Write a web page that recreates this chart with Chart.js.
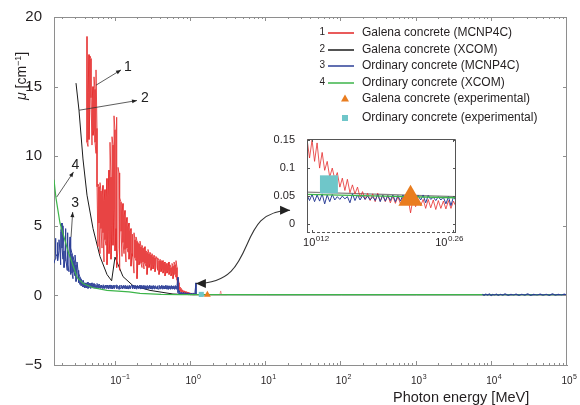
<!DOCTYPE html>
<html>
<head>
<meta charset="utf-8">
<script src="https://cdn.jsdelivr.net/npm/chart.js@4.4.1/dist/chart.umd.min.js"></script>
<style>
  html, body { margin: 0; padding: 0; background: #fff; }
  #wrap { position: relative; width: 580px; height: 405px; }
  #mainChart { position: absolute; left: 0; top: 0; }
  #insetChart { position: absolute; left: 265px; top: 125px; }
</style>
</head>
<body>
<div id="wrap">
  <canvas id="mainChart" width="580" height="405"></canvas>
  <canvas id="insetChart" width="205" height="130"></canvas>
</div>
<script>
// photon energy grid (MeV) for the MCNP4C curves, low energy part
const energyGrid = [
  0.01507, 0.01554, 0.01602, 0.01652, 0.01703, 0.01756, 0.01811, 0.01867, 0.01925, 0.01985,
  0.02047, 0.02111, 0.02176, 0.02244, 0.02313, 0.02385, 0.02460, 0.02536, 0.02615, 0.02696,
  0.02780, 0.02867, 0.02956, 0.03048, 0.03143, 0.03240, 0.03341, 0.03445, 0.03552, 0.03663,
  0.03777, 0.03894, 0.04015, 0.04140, 0.04269, 0.04401, 0.04538, 0.04679, 0.04825, 0.04975,
  0.05130, 0.05289, 0.05454, 0.05623, 0.05798, 0.05978, 0.06164, 0.06356, 0.06553, 0.06757,
  0.06967, 0.07184, 0.07407, 0.07637, 0.07875, 0.08120, 0.08372, 0.08632, 0.08901, 0.09177,
  0.09463, 0.09757, 0.1006, 0.1037, 0.1070, 0.1103, 0.1137, 0.1173, 0.1209, 0.1247,
  0.1286, 0.1326, 0.1367, 0.1409, 0.1453, 0.1498, 0.1545, 0.1593, 0.1642, 0.1693,
  0.1746, 0.1800, 0.1856, 0.1914, 0.1974, 0.2035, 0.2098, 0.2163, 0.2231, 0.2300,
  0.2372, 0.2445, 0.2521, 0.2600, 0.2681, 0.2764, 0.2850, 0.2938, 0.3030, 0.3124,
  0.3221, 0.3321, 0.3424, 0.3531, 0.3640, 0.3754, 0.3870, 0.3991, 0.4115, 0.4243,
  0.4375, 0.4511, 0.4651, 0.4796, 0.4945, 0.5099, 0.5257, 0.5421, 0.5589, 0.5763,
  0.5942, 0.6127, 0.6317, 0.6514, 0.6716, 0.6925, 0.7140, 0.7362, 0.7591, 0.7827,
  0.8070, 0.8321, 0.8580, 0.8847, 0.9122, 0.9406, 0.9698, 1.000, 1.031, 1.063,
  1.096, 1.130, 1.165
];

// Galena concrete (MCNP4C): upper / lower envelope of the noisy trace, starts at grid index 33
const galenaMcnpStart = 33;
const galenaMcnpHi = [
  18.6, 14.6, 17.3, 17.2, 17.0, 14.0, 15.0, 15.7, 14.8, 16.2,
  12.0, 8.0, 7.8, 8.1, 7.5, 7.2, 7.9, 6.8, 7.6, 7.0,
  8.4, 7.2, 9.0, 11.0, 8.5, 11.4, 10.8, 12.9, 11.9, 12.8,
  10.2, 9.2, 8.8, 7.0, 6.7, 6.0, 6.6, 5.7, 6.1, 5.2,
  5.6, 4.9, 5.2, 4.6, 4.8, 4.4, 4.3, 4.5, 4.0, 4.2,
  3.9, 3.8, 3.7, 3.9, 3.5, 3.6, 3.4, 3.3, 3.5, 3.2,
  3.1, 3.3, 3.0, 3.1, 2.9, 3.0, 2.8, 2.9, 2.7, 2.8,
  2.6, 2.7, 2.5, 2.6, 2.5, 2.4, 2.5, 2.3, 2.4, 2.2,
  2.3, 2.1, 2.4, 2.2, 2.0, 2.3, 2.1, 2.4, 2.2, 2.5,
  2.0, 1.2, 0.9, 0.6, 0.5, 0.4, 0.35, 0.3, 0.3, 0.25,
  0.25, 0.2, 0.2, 0.15, 0.15, 0.12, 0.14, 0.1, 0.12, 0.1
];
const galenaMcnpLo = [
  11.0, 10.7, 11.2, 13.8, 14.2, 10.8, 11.5, 11.9, 11.0, 10.2,
  7.8, 3.5, 5.2, 3.0, 4.8, 3.4, 4.5, 2.4, 4.0, 3.6,
  2.2, 4.6, 3.0, 4.0, 2.6, 5.0, 3.6, 6.2, 3.2, 4.8,
  2.0, 3.4, 1.8, 3.2, 4.6, 2.8, 3.8, 3.0, 3.3, 2.4,
  3.4, 3.1, 2.6, 3.2, 2.1, 3.0, 2.8, 1.6, 2.7, 2.5,
  1.2, 2.6, 2.2, 2.5, 2.3, 2.0, 2.4, 1.9, 2.3, 2.1,
  1.5, 2.2, 2.0, 2.3, 1.8, 2.1, 1.9, 2.2, 1.7, 2.0,
  1.8, 2.0, 1.5, 1.9, 1.7, 1.9, 1.6, 1.8, 1.4, 1.7,
  1.6, 1.8, 1.5, 1.7, 1.4, 1.6, 1.2, 1.7, 1.5, 1.3,
  1.1, 0.6, 0.4, 0.3, 0.25, 0.2, 0.2, 0.15, 0.15, 0.1,
  0.1, 0.1, 0.08, 0.08, 0.06, 0.06, 0.05, 0.05, 0.06, 0.05
];
const galenaTailE = [1.17, 2.0, 2.42, 2.48, 2.54, 3.0];
const galenaTailMu = [0.05, 0.05, 0.05, 0.32, 0.05, 0.05];

// Ordinary concrete (MCNP4C)
const ordMcnpHi = [
  2.3, 3.9, 4.1, 3.4, 3.8, 4.0, 3.2, 4.6, 5.2, 5.0,
  3.2, 4.4, 4.8, 3.6, 4.5, 3.0, 4.2, 3.4, 3.0, 2.8,
  2.5, 2.9, 2.2, 2.4, 1.8, 1.6, 1.3, 1.2, 1.0, 1.1,
  0.9, 0.8, 0.9, 0.85, 0.95, 0.8, 0.88, 0.78, 0.9, 0.75,
  0.85, 0.8, 0.72, 0.86, 0.76, 0.82, 0.7, 0.74, 0.68, 0.76,
  0.7, 0.66, 0.74, 0.69, 0.72, 0.65, 0.75, 0.68, 0.71, 0.64,
  0.73, 0.67, 0.7, 0.75, 0.66, 0.72, 0.69, 0.74, 0.65, 0.71,
  0.68, 0.73, 0.66, 0.7, 0.64, 0.72, 0.67, 0.7, 0.74, 0.65,
  0.69, 0.72, 0.66, 0.71, 0.68, 0.65, 0.73, 0.67, 0.7, 0.64,
  0.71, 0.68, 0.66, 0.72, 0.65, 0.69, 0.7, 0.64, 0.68, 0.71,
  0.66, 0.7, 0.63, 0.69, 0.67, 0.72, 0.65, 0.68, 0.7, 0.64,
  0.68, 0.66, 0.71, 0.63, 0.69, 0.67, 0.65, 0.7, 0.66, 0.68,
  0.64, 0.7, 0.66, 0.72, 1.3, 0.35, 0.22, 0.2, 0.18, 0.22,
  0.16, 0.2, 0.15, 0.18, 0.14, 0.17, 0.13, 0.16, 0.12, 0.15,
  0.14, 0.25, 0.9
];
const ordMcnpLo = [
  2.3, 2.6, 3.0, 2.8, 2.5, 3.2, 2.2, 2.6, 3.4, 2.6,
  2.0, 2.5, 2.9, 1.8, 2.2, 1.7, 2.0, 1.5, 1.6, 1.2,
  1.7, 1.4, 1.0, 1.2, 0.9, 1.0, 0.8, 0.7, 0.7, 0.6,
  0.6, 0.55, 0.55, 0.6, 0.5, 0.62, 0.55, 0.5, 0.6, 0.52,
  0.58, 0.5, 0.55, 0.48, 0.56, 0.5, 0.54, 0.5, 0.55, 0.47,
  0.53, 0.5, 0.56, 0.49, 0.52, 0.46, 0.54, 0.5, 0.47, 0.53,
  0.5, 0.55, 0.48, 0.52, 0.5, 0.45, 0.53, 0.49, 0.52, 0.47,
  0.54, 0.5, 0.48, 0.53, 0.46, 0.51, 0.49, 0.54, 0.47, 0.5,
  0.52, 0.47, 0.5, 0.45, 0.53, 0.49, 0.51, 0.46, 0.5, 0.52,
  0.48, 0.5, 0.44, 0.52, 0.49, 0.47, 0.51, 0.48, 0.45, 0.5,
  0.49, 0.46, 0.51, 0.47, 0.5, 0.44, 0.49, 0.47, 0.5, 0.45,
  0.48, 0.5, 0.46, 0.49, 0.44, 0.48, 0.47, 0.45, 0.49, 0.46,
  0.47, 0.44, 0.48, 0.45, 0.2, 0.12, 0.1, 0.08, 0.1, 0.07,
  0.08, 0.06, 0.08, 0.05, 0.07, 0.05, 0.06, 0.05, 0.06, 0.05,
  0.05, 0.06, 0.1
];
const ordHighE = [7500, 7900, 8300, 8800, 9300, 9800, 10300, 10900, 11500, 12200,
  13000, 14000, 15000, 16500, 18000, 19500, 21000, 23000, 25000, 27500,
  30000, 33000, 36000, 40000, 44000, 48000, 53000, 58000, 64000, 70000,
  77000, 85000, 92000, 100000];
const ordHighMu = [0.09, 0.01, 0.08, 0.02, 0.1, 0.0, 0.07, 0.03, 0.09, 0.01,
  0.08, 0.02, 0.1, 0.01, 0.07, 0.03, 0.09, 0.0, 0.08, 0.02,
  0.1, 0.01, 0.07, 0.03, 0.09, 0.02, 0.08, 0.0, 0.1, 0.02,
  0.07, 0.03, 0.09, 0.02];

// XCOM curves
const galenaXcomE = [0.02956, 0.0324, 0.0366, 0.0414, 0.0498, 0.0616, 0.0764, 0.0880, 0.0976,
  0.1247, 0.1693, 0.285, 0.576, 1.06, 10, 100, 1000, 10000, 100000];
const galenaXcomMu = [15.25, 13.3, 9.8, 7.2, 4.8, 2.8, 1.5, 1.05, 2.75,
  1.35, 0.7, 0.36, 0.1, 0.05, 0.04, 0.04, 0.04, 0.04, 0.04];
const ordXcomE = [0.01507, 0.0160, 0.0181, 0.0231, 0.0305, 0.0367, 0.050, 0.0763, 0.15,
  0.21, 0.40, 0.714, 1.0, 10, 100, 1000, 10000, 100000];
const ordXcomMu = [8.3, 7.0, 5.2, 3.2, 1.3, 0.85, 0.55, 0.36, 0.25,
  0.15, 0.08, 0.06, 0.055, 0.05, 0.05, 0.05, 0.05, 0.05];

// experimental points
const galenaExpE = [1.65];
const galenaExpMu = [0.045];
const ordExpE = [1.37];
const ordExpMu = [0.071];

// inset (zoom around 1.3 - 1.8 MeV)
const insetE = [
  1.3032, 1.3107, 1.3183, 1.3259, 1.3335, 1.3412, 1.3490, 1.3568, 1.3646, 1.3725,
  1.3804, 1.3884, 1.3964, 1.4045, 1.4125, 1.4207, 1.4289, 1.4372, 1.4454, 1.4538,
  1.4622, 1.4707, 1.4791, 1.4877, 1.4962, 1.5049, 1.5136, 1.5223, 1.5311, 1.5399,
  1.5488, 1.5578, 1.5668, 1.5758, 1.5849, 1.5941, 1.6032, 1.6125, 1.6218, 1.6312,
  1.6406, 1.6501, 1.6596, 1.6692, 1.6788, 1.6885, 1.6982, 1.7080, 1.7179, 1.7278,
  1.7378, 1.7478, 1.7579, 1.7681, 1.7783, 1.7886, 1.7989, 1.8093, 1.8197, 1.8302
];
const insetGalenaHi = [
  0.152, 0.148, 0.150, 0.140, 0.145, 0.130, 0.128, 0.118, 0.112, 0.108,
  0.100, 0.096, 0.092, 0.086, 0.082, 0.078, 0.080, 0.072, 0.070, 0.068,
  0.066, 0.064, 0.058, 0.060, 0.055, 0.057, 0.054, 0.052, 0.055, 0.050,
  0.052, 0.049, 0.051, 0.048, 0.050, 0.047, 0.049, 0.046, 0.048, 0.045,
  0.047, 0.044, 0.046, 0.043, 0.045, 0.042, 0.044, 0.041, 0.044, 0.040,
  0.043, 0.039, 0.042, 0.040, 0.041, 0.038, 0.042, 0.039, 0.041, 0.042
];
const insetGalenaLo = [
  0.115, 0.118, 0.110, 0.112, 0.104, 0.100, 0.094, 0.096, 0.088, 0.084,
  0.078, 0.080, 0.070, 0.066, 0.064, 0.060, 0.058, 0.056, 0.052, 0.054,
  0.050, 0.048, 0.046, 0.044, 0.045, 0.042, 0.044, 0.040, 0.038, 0.041,
  0.036, 0.040, 0.035, 0.038, 0.034, 0.037, 0.033, 0.036, 0.030, 0.035,
  0.032, 0.020, 0.034, 0.031, 0.026, 0.033, 0.030, 0.028, 0.032, 0.029,
  0.031, 0.026, 0.030, 0.028, 0.031, 0.027, 0.030, 0.028, 0.030, 0.031
];
const insetOrdHi = [
  0.052, 0.050, 0.053, 0.049, 0.052, 0.050, 0.054, 0.049, 0.052, 0.050,
  0.053, 0.051, 0.049, 0.052, 0.050, 0.053, 0.049, 0.051, 0.054, 0.050,
  0.052, 0.049, 0.051, 0.053, 0.050, 0.052, 0.049, 0.051, 0.053, 0.050,
  0.052, 0.049, 0.051, 0.050, 0.052, 0.049, 0.051, 0.050, 0.052, 0.049,
  0.051, 0.050, 0.052, 0.049, 0.051, 0.050, 0.052, 0.049, 0.051, 0.050,
  0.048, 0.051, 0.049, 0.050, 0.048, 0.050, 0.049, 0.047, 0.049, 0.050
];
const insetOrdLo = [
  0.044, 0.042, 0.046, 0.040, 0.044, 0.041, 0.045, 0.036, 0.043, 0.040,
  0.032, 0.043, 0.040, 0.044, 0.039, 0.045, 0.041, 0.038, 0.044, 0.042,
  0.040, 0.043, 0.039, 0.044, 0.041, 0.043, 0.037, 0.042, 0.044, 0.040,
  0.043, 0.041, 0.036, 0.042, 0.044, 0.040, 0.043, 0.041, 0.042, 0.039,
  0.043, 0.041, 0.044, 0.040, 0.042, 0.043, 0.041, 0.038, 0.042, 0.044,
  0.040, 0.042, 0.038, 0.043, 0.041, 0.036, 0.042, 0.033, 0.041, 0.042
];
const insetGreenE = [1.3032, 1.55, 1.8302];
const insetGreenMu = [0.053, 0.050, 0.047];
const insetBlackE = [1.3032, 1.55, 1.8302];
const insetBlackMu = [0.057, 0.053, 0.049];

const mainYTicks = [-5, 0, 5, 10, 15, 20];
const mainXLabelPowers = [-1, 0, 1, 2, 3, 4, 5];
const insetYTicks = [0, 0.05, 0.1, 0.15];
const insetXTicks = [0.12, 0.26];          // exponents of 10
const insetXTickText = ['012', '0.26'];

const FONT = '"Liberation Sans", Arial, Helvetica, sans-serif';
const RED = 'rgba(228, 40, 40, 0.78)';
const BLACK = '#1b1b1b';
const BLUE = '#2c3f97';
const GREEN = '#3db54a';
const ORANGE = '#e97d1f';
const CYAN = '#6fc6c9';
const AXIS = '#8e8e8e';
const TEXT = '#231f20';

// vertical strokes between upper and lower envelope
function envelope(E, hi, lo, offset) {
    const pts = [];
    for (let i = 0; i < hi.length; i++) {
        const x = E[i + (offset || 0)];
        if (i % 2 === 0) {
            pts.push({ x: x, y: hi[i] }, { x: x, y: lo[i] });
        } else {
            pts.push({ x: x, y: lo[i] }, { x: x, y: hi[i] });
        }
    }
    return pts;
}
// alternate upper / lower values along the grid
function zigzag(E, hi, lo) {
    return E.map((e, i) => ({ x: e, y: i % 2 === 0 ? hi[i] : lo[i] }));
}
function pairs(E, mu) {
    return E.map((e, i) => ({ x: e, y: mu[i] }));
}
function lineSet(label, data, color, width, order) {
    return { label, data, showLine: true, borderColor: color, borderWidth: width,
        pointRadius: 0, pointHoverRadius: 0, fill: false, tension: 0, order };
}
function markerSet(label, data, style, r, color, order) {
    return { label, data, showLine: false, pointStyle: style, pointRadius: r,
        pointHoverRadius: r, backgroundColor: color, borderWidth: 0, order };
}

function arrowHead(ctx, tx, ty, fx, fy, len, half) {
    const a = Math.atan2(ty - fy, tx - fx);
    const bx = tx - len * Math.cos(a), by = ty - len * Math.sin(a);
    ctx.beginPath();
    ctx.moveTo(tx, ty);
    ctx.lineTo(bx + half * Math.sin(a), by - half * Math.cos(a));
    ctx.lineTo(bx - half * Math.sin(a), by + half * Math.cos(a));
    ctx.closePath();
    ctx.fill();
}

// "10" with a raised exponent; anchor: 'base' centres the 10, 'start' or 'end' align the whole label
function drawPow(ctx, x, y, exp, size, expSize, rise, anchor) {
    ctx.font = size + 'px ' + FONT;
    const wb = ctx.measureText('10').width;
    ctx.font = expSize + 'px ' + FONT;
    const we = ctx.measureText(exp).width;
    let sx = x - wb / 2;
    if (anchor === 'start') sx = x;
    if (anchor === 'end') sx = x - wb - we;
    ctx.textAlign = 'left';
    ctx.textBaseline = 'alphabetic';
    ctx.font = size + 'px ' + FONT;
    ctx.fillText('10', sx, y);
    ctx.font = expSize + 'px ' + FONT;
    ctx.fillText(exp, sx + wb + 0.5, y - rise);
}

// annotation arrows with the curve numbers (data coordinates)
const numberArrows = [
    { text: '1', from: [0.0545, 15.1], to: [0.1173, 16.2], at: [0.145, 16.4] },
    { text: '2', from: [0.0324, 13.3], to: [0.1914, 14.0], at: [0.2445, 14.2] },
    { text: '3', from: [0.0254, 4.19], to: [0.0267, 5.99], at: [0.0287, 6.6] },
    { text: '4', from: [0.0164, 7.07], to: [0.0274, 8.87], at: [0.0290, 9.35] },
];
// curved double arrow towards the inset
const zoomArrow = { start: [1.16, 0.86], c1: [8.79, 0.86], c2: [3.51, 6.12], end: [20.77, 6.12] };

const legendRows = [
    { num: '1', kind: 'line', color: 'rgb(226,36,36)', text: 'Galena concrete (MCNP4C)' },
    { num: '2', kind: 'line', color: BLACK, text: 'Galena concrete (XCOM)' },
    { num: '3', kind: 'line', color: BLUE, text: 'Ordinary concrete (MCNP4C)' },
    { num: '4', kind: 'line', color: GREEN, text: 'Ordinary concrete (XCOM)' },
    { num: '', kind: 'triangle', color: ORANGE, text: 'Galena concrete (experimental)' },
    { num: '', kind: 'square', color: CYAN, text: 'Ordinary concrete (experimental)' },
];
const legendRowY = [33, 50, 66, 83, 99, 118];

const mainDecor = {
    id: 'mainDecor',
    afterDraw(chart) {
        const { ctx, chartArea: a } = chart;
        const x = chart.scales.x, y = chart.scales.y;
        const P = (p) => [x.getPixelForValue(p[0]), y.getPixelForValue(p[1])];
        ctx.save();

        // frame top / right and inward ticks
        ctx.strokeStyle = AXIS;
        ctx.lineWidth = 1;
        ctx.beginPath();
        ctx.moveTo(a.left, a.top + 0.5); ctx.lineTo(a.right, a.top + 0.5);
        ctx.moveTo(a.right - 0.5, a.top); ctx.lineTo(a.right - 0.5, a.bottom);
        for (let p = -2; p <= 5; p++) {
            for (let m = 1; m <= 9; m++) {
                const v = m * Math.pow(10, p);
                if (v < x.min || v > x.max) continue;
                const px = Math.round(x.getPixelForValue(v)) - 0.5;
                const len = m === 1 ? 4 : 2;
                ctx.moveTo(px, a.bottom); ctx.lineTo(px, a.bottom - len);
                ctx.moveTo(px, a.top); ctx.lineTo(px, a.top + len);
            }
        }
        mainYTicks.forEach((v) => {
            const py = Math.round(y.getPixelForValue(v)) + 0.5;
            ctx.moveTo(a.left, py); ctx.lineTo(a.left + 4, py);
            ctx.moveTo(a.right, py); ctx.lineTo(a.right - 4, py);
        });
        ctx.stroke();

        // x tick labels 10^n
        ctx.fillStyle = TEXT;
        mainXLabelPowers.forEach((n) => {
            const px = x.getPixelForValue(Math.pow(10, n));
            drawPow(ctx, px, 384, n < 0 ? '\u2212' + (-n) : String(n), 10, 7, 5, 'base');
        });

        // axis titles
        ctx.font = '14.5px ' + FONT;
        ctx.textAlign = 'left';
        ctx.textBaseline = 'alphabetic';
        ctx.fillText('Photon energy [MeV]', 393, 401.5);

        ctx.save();
        ctx.translate(26, 100);
        ctx.rotate(-Math.PI / 2);
        let tx = 0;
        ctx.font = 'italic 14px ' + FONT;
        ctx.fillText('\u03bc', tx, 0); tx += ctx.measureText('\u03bc').width;
        ctx.font = '14px ' + FONT;
        ctx.fillText(' [cm', tx, 0); tx += ctx.measureText(' [cm').width;
        ctx.font = '9px ' + FONT;
        ctx.fillText('\u22121', tx, -5); tx += ctx.measureText('\u22121').width;
        ctx.font = '14px ' + FONT;
        ctx.fillText(']', tx, 0);
        ctx.restore();

        // numbered arrows
        ctx.strokeStyle = '#333';
        ctx.fillStyle = '#222';
        ctx.lineWidth = 0.8;
        numberArrows.forEach((n) => {
            const f = P(n.from), t = P(n.to), l = P(n.at);
            ctx.beginPath(); ctx.moveTo(f[0], f[1]); ctx.lineTo(t[0], t[1]); ctx.stroke();
            arrowHead(ctx, t[0], t[1], f[0], f[1], 5, 2);
            ctx.font = '14px ' + FONT;
            ctx.textAlign = 'center';
            ctx.textBaseline = 'middle';
            ctx.fillText(n.text, l[0], l[1]);
        });

        // curved arrow to the inset
        const s = P(zoomArrow.start), c1 = P(zoomArrow.c1), c2 = P(zoomArrow.c2), e = P(zoomArrow.end);
        ctx.lineWidth = 1.1;
        ctx.beginPath();
        ctx.moveTo(s[0], s[1]);
        ctx.bezierCurveTo(c1[0], c1[1], c2[0], c2[1], e[0], e[1]);
        ctx.stroke();
        arrowHead(ctx, s[0], s[1], c1[0], c1[1], 10, 4.5);
        arrowHead(ctx, e[0], e[1], c2[0], c2[1], 10, 4.5);

        // legend
        legendRows.forEach((row, i) => {
            const ry = legendRowY[i];
            ctx.fillStyle = TEXT;
            if (row.num) {
                ctx.font = '10px ' + FONT;
                ctx.textAlign = 'right';
                ctx.textBaseline = 'middle';
                ctx.fillText(row.num, 325, ry - 1);
            }
            if (row.kind === 'line') {
                ctx.strokeStyle = row.color;
                ctx.lineWidth = 1.5;
                ctx.beginPath(); ctx.moveTo(328, ry); ctx.lineTo(354, ry); ctx.stroke();
            } else if (row.kind === 'triangle') {
                ctx.fillStyle = row.color;
                ctx.beginPath();
                ctx.moveTo(345, ry - 4.5); ctx.lineTo(349, ry + 2.5); ctx.lineTo(341, ry + 2.5);
                ctx.closePath(); ctx.fill();
            } else {
                ctx.fillStyle = row.color;
                ctx.fillRect(342, ry - 3, 6, 6);
            }
            ctx.fillStyle = TEXT;
            ctx.font = '12px ' + FONT;
            ctx.textAlign = 'left';
            ctx.textBaseline = 'middle';
            ctx.fillText(row.text, 362, ry);
        });
        ctx.restore();
    }
};

const mainChart = new Chart(document.getElementById('mainChart'), {
    type: 'scatter',
    data: {
        datasets: [
            markerSet('Galena concrete (experimental)', pairs(galenaExpE, galenaExpMu), 'triangle', 4, ORANGE, 0),
            markerSet('Ordinary concrete (experimental)', pairs(ordExpE, ordExpMu), 'rect', 3.6, CYAN, 1),
            lineSet('Ordinary concrete (MCNP4C) high', pairs(ordHighE, ordHighMu), BLUE, 1.2, 2),
            lineSet('Ordinary concrete (XCOM)', pairs(ordXcomE, ordXcomMu), GREEN, 1.2, 3),
            lineSet('Ordinary concrete (MCNP4C)', envelope(energyGrid, ordMcnpHi, ordMcnpLo, 0), BLUE, 1, 4),
            lineSet('Galena concrete (MCNP4C)', envelope(energyGrid, galenaMcnpHi, galenaMcnpLo, galenaMcnpStart), RED, 1, 5),
            lineSet('Galena tail', pairs(galenaTailE, galenaTailMu), 'rgba(235,120,120,0.8)', 1, 6),
            lineSet('Galena concrete (XCOM)', pairs(galenaXcomE, galenaXcomMu), BLACK, 1, 7),
        ],
    },
    options: {
        responsive: false,
        animation: false,
        devicePixelRatio: 1,
        layout: { padding: { top: 17, right: 13, left: 0, bottom: 0 } },
        plugins: { legend: { display: false }, tooltip: { enabled: false } },
        scales: {
            x: {
                type: 'logarithmic',
                min: 0.01507,
                max: 100000,
                grid: { display: false },
                border: { color: AXIS, width: 1 },
                ticks: { display: false },
                afterFit(s) { s.height = 40; },
            },
            y: {
                min: -5,
                max: 20,
                grid: { display: false },
                border: { color: AXIS, width: 1 },
                ticks: {
                    font: { family: FONT, size: 15 },
                    color: TEXT,
                    padding: 4,
                    callback: (v) => String(v).replace('-', '\u2212'),
                },
                afterBuildTicks(s) { s.ticks = mainYTicks.map((v) => ({ value: v })); },
                afterFit(s) { s.width = 54; },
            },
        },
    },
    plugins: [mainDecor],
});

const insetDecor = {
    id: 'insetDecor',
    afterDraw(chart) {
        const { ctx, chartArea: a } = chart;
        const x = chart.scales.x, y = chart.scales.y;
        ctx.save();
        ctx.strokeStyle = '#555';
        ctx.lineWidth = 1;
        ctx.beginPath();
        ctx.moveTo(a.left + 0.5, a.bottom); ctx.lineTo(a.left + 0.5, a.top + 0.5);
        ctx.lineTo(a.right - 0.5, a.top + 0.5); ctx.lineTo(a.right - 0.5, a.bottom);
        insetYTicks.forEach((v) => {
            const py = Math.round(y.getPixelForValue(v)) + 0.5;
            ctx.moveTo(a.left, py); ctx.lineTo(a.left + 3, py);
            ctx.moveTo(a.right, py); ctx.lineTo(a.right - 3, py);
        });
        insetXTicks.forEach((p) => {
            const px = Math.round(x.getPixelForValue(Math.pow(10, p))) + 0.5;
            ctx.moveTo(px, a.top); ctx.lineTo(px, a.top + 3);
            ctx.moveTo(px, a.bottom); ctx.lineTo(px, a.bottom - 3);
        });
        ctx.stroke();
        ctx.setLineDash([3, 2]);
        ctx.beginPath();
        ctx.moveTo(a.left, a.bottom - 0.5); ctx.lineTo(a.right, a.bottom - 0.5);
        ctx.stroke();
        ctx.setLineDash([]);

        ctx.fillStyle = TEXT;
        const l = x.getPixelForValue(Math.pow(10, insetXTicks[0]));
        const r = x.getPixelForValue(Math.pow(10, insetXTicks[1]));
        drawPow(ctx, l - 9, 120.5, insetXTickText[0], 11, 8, 5, 'start');
        drawPow(ctx, r + 9.5, 120.5, insetXTickText[1], 11, 8, 5, 'end');
        ctx.restore();
    }
};

const insetChart = new Chart(document.getElementById('insetChart'), {
    type: 'scatter',
    data: {
        datasets: [
            markerSet('Galena concrete (experimental)', pairs(galenaExpE, galenaExpMu), 'triangle', 14, ORANGE, 0),
            markerSet('Ordinary concrete (experimental)', pairs(ordExpE, ordExpMu), 'rect', 12.7, CYAN, 1),
            lineSet('Ordinary concrete (XCOM)', pairs(insetGreenE, insetGreenMu), GREEN, 1.3, 2),
            lineSet('Ordinary concrete (MCNP4C)', zigzag(insetE, insetOrdHi, insetOrdLo), BLUE, 1, 3),
            lineSet('Galena concrete (MCNP4C)', zigzag(insetE, insetGalenaHi, insetGalenaLo), RED, 1, 4),
            lineSet('Galena concrete (XCOM)', pairs(insetBlackE, insetBlackMu), 'rgba(80,80,80,0.7)', 1.3, 5),
        ],
    },
    options: {
        responsive: false,
        animation: false,
        devicePixelRatio: 1,
        layout: { padding: { top: 10, right: 14, left: 0, bottom: 0 } },
        plugins: { legend: { display: false }, tooltip: { enabled: false } },
        scales: {
            x: {
                type: 'logarithmic',
                min: 1.3032,
                max: 1.8302,
                grid: { display: false },
                border: { display: false },
                ticks: { display: false },
                afterFit(s) { s.height = 22; },
            },
            y: {
                min: -0.016,
                max: 0.152,
                grid: { display: false },
                border: { display: false },
                ticks: {
                    font: { family: FONT, size: 11 },
                    color: TEXT,
                    padding: 4,
                    callback: (v) => String(v),
                },
                afterBuildTicks(s) { s.ticks = insetYTicks.map((v) => ({ value: v })); },
                afterFit(s) { s.width = 42; },
            },
        },
    },
    plugins: [insetDecor],
});
</script>
</body>
</html>
